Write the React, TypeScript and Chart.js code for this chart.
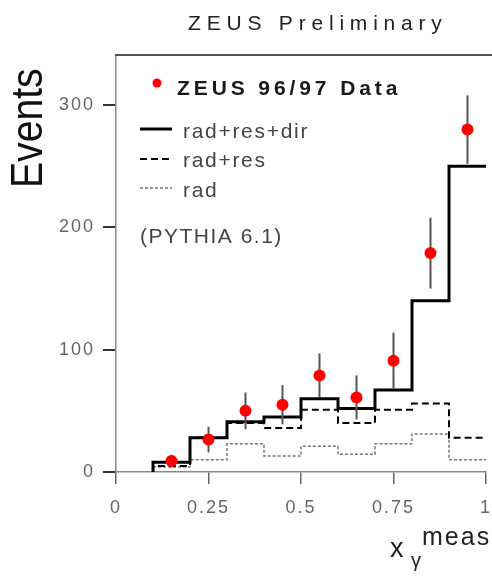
import React, { useEffect, useRef } from "react";
import { Chart, registerables } from "chart.js";

Chart.register(...registerables);

// ---- data ----
const binEdges = [0.1, 0.2, 0.3, 0.4, 0.5, 0.6, 0.7, 0.8, 0.9, 1.0];
const radResDir = [8, 28, 41, 45, 60, 52, 67, 140, 250];
const radRes = [5, 28, 40, 36, 51, 40, 51, 56, 28];
const radOnly = [4, 10, 23, 13, 21, 14.5, 23, 31, 10];
const dataX = [0.15, 0.25, 0.35, 0.45, 0.55, 0.65, 0.75, 0.85, 0.95];
const dataY = [9, 26.5, 50, 55, 79, 61, 91, 179, 280];
const dataErr = [5, 10.5, 15, 16, 18, 18, 23, 29, 28];
const xTicks = [0, 0.25, 0.5, 0.75, 1];
const xTickLabels = ["0", "0.25", "0.5", "0.75", "1"];
const yTicks = [0, 100, 200, 300];

const FONT = "'Liberation Sans', Arial, Helvetica, sans-serif";

function histPoints(vals: number[]) {
  const pts: { x: number; y: number }[] = [{ x: binEdges[0], y: 0 }];
  vals.forEach((v, i) => pts.push({ x: binEdges[i + 1], y: v }));
  return pts;
}

function txt(
  ctx: CanvasRenderingContext2D,
  s: string,
  x: number,
  y: number,
  font: string,
  color: string,
  spacing: number
) {
  ctx.save();
  ctx.font = font;
  ctx.fillStyle = color;
  (ctx as any).letterSpacing = spacing + "px";
  ctx.textAlign = "left";
  ctx.textBaseline = "alphabetic";
  ctx.fillText(s, x, y);
  ctx.restore();
}

const decorPlugin = {
  id: "decor",
  beforeLayout(chart: any) {
    chart.ctx.letterSpacing = "2px";
  },
  beforeDraw(chart: any) {
    chart.ctx.letterSpacing = "2px";
  },
  beforeDatasetDraw(chart: any, args: any) {
    if (args.index !== 3) return;
    const ctx = chart.ctx as CanvasRenderingContext2D;
    const xs = chart.scales.x;
    const ys = chart.scales.y;
    ctx.save();
    ctx.strokeStyle = "#555";
    ctx.lineWidth = 2;
    dataX.forEach((xv, i) => {
      const px = xs.getPixelForValue(xv);
      ctx.beginPath();
      ctx.moveTo(px, ys.getPixelForValue(dataY[i] + dataErr[i]));
      ctx.lineTo(px, ys.getPixelForValue(dataY[i] - dataErr[i]));
      ctx.stroke();
    });
    ctx.restore();
  },
  afterDraw(chart: any) {
    const ctx = chart.ctx as CanvasRenderingContext2D;
    const ca = chart.chartArea;
    ctx.save();
    ctx.strokeStyle = "#555";
    ctx.lineWidth = 2;
    ctx.beginPath();
    ctx.moveTo(ca.left - 1, ca.top);
    ctx.lineTo(chart.width, ca.top);
    ctx.stroke();
    ctx.restore();

    // title
    txt(ctx, "ZEUS Preliminary", 188, 30, `21px ${FONT}`, "#222", 5.8);

    // y title
    ctx.save();
    ctx.translate(42, 188);
    ctx.rotate(-Math.PI / 2);
    ctx.scale(0.87, 1);
    ctx.font = `45px ${FONT}`;
    ctx.fillStyle = "#111";
    (ctx as any).letterSpacing = "0px";
    ctx.textAlign = "left";
    ctx.textBaseline = "alphabetic";
    ctx.fillText("Events", 0, 0);
    ctx.restore();

    // x title
    txt(ctx, "x", 390, 557, `27px ${FONT}`, "#222", 0);
    txt(ctx, "γ", 411, 567, `20px ${FONT}`, "#222", 0);
    txt(ctx, "meas", 422, 545, `25px ${FONT}`, "#222", 2);

    // legend
    ctx.save();
    ctx.fillStyle = "#ff0000";
    ctx.beginPath();
    ctx.arc(157, 83, 4.5, 0, Math.PI * 2);
    ctx.fill();
    ctx.restore();
    txt(ctx, "ZEUS 96/97 Data", 177, 95, `bold 21px ${FONT}`, "#1a1a1a", 3.9);

    const lines = [
      { y: 129, w: 3, dash: [] as number[], color: "#000", label: "rad+res+dir", base: 138 },
      { y: 159, w: 2, dash: [7, 4], color: "#000", label: "rad+res", base: 167 },
      { y: 188, w: 1.5, dash: [3, 2], color: "#777", label: "rad", base: 197 },
    ];
    lines.forEach((l) => {
      ctx.save();
      ctx.strokeStyle = l.color;
      ctx.lineWidth = l.w;
      ctx.setLineDash(l.dash);
      ctx.beginPath();
      ctx.moveTo(140, l.y);
      ctx.lineTo(172, l.y);
      ctx.stroke();
      ctx.restore();
      txt(ctx, l.label, 183, l.base, `21px ${FONT}`, "#444", 1.7);
    });
    txt(ctx, "(PYTHIA 6.1)", 140, 243, `21px ${FONT}`, "#444", 1.5);
  },
};

export default function App() {
  const ref = useRef<HTMLCanvasElement>(null);

  useEffect(() => {
    if (!ref.current) return;
    const chart = new Chart(ref.current, {
      type: "line",
      data: {
        datasets: [
          {
            label: "rad",
            data: histPoints(radOnly),
            stepped: "after",
            borderColor: "#777",
            borderWidth: 1.5,
            borderDash: [3, 2],
            pointRadius: 0,
            fill: false,
            order: 4,
          },
          {
            label: "rad+res",
            data: histPoints(radRes),
            stepped: "after",
            borderColor: "#000",
            borderWidth: 2,
            borderDash: [7, 4],
            pointRadius: 0,
            fill: false,
            order: 3,
          },
          {
            label: "rad+res+dir",
            data: histPoints(radResDir),
            stepped: "after",
            borderColor: "#000",
            borderWidth: 3,
            pointRadius: 0,
            fill: false,
            order: 2,
          },
          {
            label: "ZEUS 96/97 Data",
            type: "scatter",
            data: dataX.map((x, i) => ({ x, y: dataY[i] })),
            showLine: false,
            pointRadius: 6,
            pointBackgroundColor: "#ff0000",
            pointBorderWidth: 0,
            borderColor: "#ff0000",
            order: 1,
          } as any,
        ],
      },
      options: {
        responsive: false,
        animation: false,
        devicePixelRatio: 1,
        layout: { padding: { top: 55, right: 2, left: 0, bottom: 0 } },
        plugins: {
          legend: { display: false },
          title: { display: false },
          tooltip: { enabled: false },
        },
        scales: {
          x: {
            type: "linear",
            min: 0,
            max: 1,
            afterBuildTicks: (s: any) => {
              s.ticks = xTicks.map((v) => ({ value: v }));
            },
            afterFit: (s: any) => {
              s.height = 108;
              s.paddingLeft = 0;
              s.paddingRight = 0;
            },
            ticks: {
              color: "#666",
              font: { family: FONT, size: 18 },
              padding: 13,
              maxRotation: 0,
              autoSkip: false,
              callback: (_v: any, i: number) => xTickLabels[i],
            },
            grid: {
              drawOnChartArea: false,
              drawTicks: true,
              tickLength: 12,
              color: "#666",
              lineWidth: 1.5,
            },
            border: { color: "#888", width: 1.5 },
          },
          y: {
            type: "linear",
            min: 0,
            max: 341,
            afterBuildTicks: (s: any) => {
              s.ticks = yTicks.map((v) => ({ value: v }));
            },
            afterFit: (s: any) => {
              s.width = 116;
              s.paddingTop = 0;
              s.paddingBottom = 0;
            },
            ticks: {
              color: "#666",
              font: { family: FONT, size: 18 },
              padding: 8,
              autoSkip: false,
            },
            grid: {
              drawOnChartArea: false,
              drawTicks: true,
              tickLength: 13,
              color: "#333",
              lineWidth: 2,
            },
            border: { color: "#888", width: 1.5 },
          },
        },
      },
      plugins: [decorPlugin],
    } as any);
    return () => chart.destroy();
  }, []);

  return (
    <div style={{ position: "absolute", left: 0, top: 0, width: 492, height: 580, background: "#fff" }}>
      <canvas ref={ref} width={492} height={580} style={{ display: "block" }} />
    </div>
  );
}
